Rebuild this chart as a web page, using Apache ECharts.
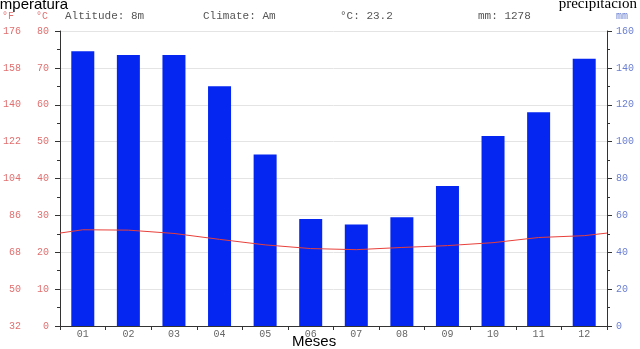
<!DOCTYPE html>
<html><head><meta charset="utf-8">
<script src="https://cdn.jsdelivr.net/npm/echarts@6/dist/echarts.min.js"></script>
<style>html,body{margin:0;padding:0;background:#fff}#c{width:640px;height:349px}</style>
</head><body><div id="c"></div>
<script>
const months = ['01','02','03','04','05','06','07','08','09','10','11','12'];
const precipitation = [149,147,147,130,93,58,55,59,76,103,116,145];
const temperature = [26.1,26.0,25.1,23.5,22.0,21.0,20.7,21.3,21.8,22.6,24.0,24.5];
const tempEdge = 25.2; // value read at both plot edges
const headerTexts = ['Altitude: 8m','Climate: Am','°C: 23.2','mm: 1278'];

const lineData = [[0,tempEdge]].concat(temperature.map((v,i)=>[i+0.5,v])).concat([[12,tempEdge]]);
const mono = 'Liberation Mono';
const chart = echarts.init(document.getElementById('c'));
chart.setOption({
  animation:false,
  grid:{left:58,right:33,top:31,bottom:23},
  xAxis:[
    {type:'category',data:months,boundaryGap:true,
     axisLine:{lineStyle:{color:'#333'}},
     axisTick:{show:true,length:4,lineStyle:{color:'#333'}},
     axisLabel:{color:'#666',fontFamily:mono,fontSize:10,margin:3},
     splitLine:{show:false}},
    {type:'value',min:0,max:12,show:false}
  ],
  yAxis:[
    {type:'value',min:0,max:80,interval:10,position:'left',
     axisLine:{show:true,lineStyle:{color:'#333'}},
     axisTick:{show:true,length:5,lineStyle:{color:'#333'}},
     minorTick:{show:true,splitNumber:2,length:3,lineStyle:{color:'#333'}},
     axisLabel:{color:'#e07070',fontFamily:mono,fontSize:10,margin:11},
     splitLine:{show:true,lineStyle:{color:'#e4e4e4',width:1}}},
    {type:'value',min:32,max:176,interval:18,position:'left',offset:37,
     axisLine:{show:false},axisTick:{show:false},
     axisLabel:{color:'#e07070',fontFamily:mono,fontSize:10,margin:2},
     splitLine:{show:false}},
    {type:'value',min:0,max:160,interval:20,position:'right',
     axisLine:{show:true,lineStyle:{color:'#333'}},
     axisTick:{show:true,length:5,lineStyle:{color:'#333'}},
     minorTick:{show:true,splitNumber:2,length:3,lineStyle:{color:'#333'}},
     axisLabel:{color:'#6a7fd0',fontFamily:mono,fontSize:10,margin:9},
     splitLine:{show:false}}
  ],
  series:[
    {type:'bar',data:precipitation,xAxisIndex:0,yAxisIndex:2,barWidth:23,
     itemStyle:{color:'#0526f0'}},
    {type:'line',data:lineData,xAxisIndex:1,yAxisIndex:0,smooth:false,
     showSymbol:false,lineStyle:{color:'#e8403a',width:1}}
  ],
  graphic:[
    {type:'text',left:-16,top:-3,style:{text:'Temperatura',font:'15px "Liberation Sans"',fill:'#000'}},
    {type:'text',right:3,top:-3,style:{text:'precipitación',font:'15px "Liberation Serif"',fill:'#000'}},
    {type:'text',left:292,top:334,style:{text:'Meses',font:'15px "Liberation Sans"',fill:'#000'}},
    {type:'text',left:2,top:11,style:{text:'°F',font:'10px "Liberation Mono"',fill:'#e07070'}},
    {type:'text',left:36,top:11,style:{text:'°C',font:'10px "Liberation Mono"',fill:'#e07070'}},
    {type:'text',left:616,top:11,style:{text:'mm',font:'10px "Liberation Mono"',fill:'#6a7fd0'}},
    {type:'text',left:65,top:11,style:{text:headerTexts[0],font:'11px "Liberation Mono"',fill:'#555'}},
    {type:'text',left:203,top:11,style:{text:headerTexts[1],font:'11px "Liberation Mono"',fill:'#555'}},
    {type:'text',left:340,top:11,style:{text:headerTexts[2],font:'11px "Liberation Mono"',fill:'#555'}},
    {type:'text',left:478,top:11,style:{text:headerTexts[3],font:'11px "Liberation Mono"',fill:'#555'}}
  ]
});
</script></body></html>
